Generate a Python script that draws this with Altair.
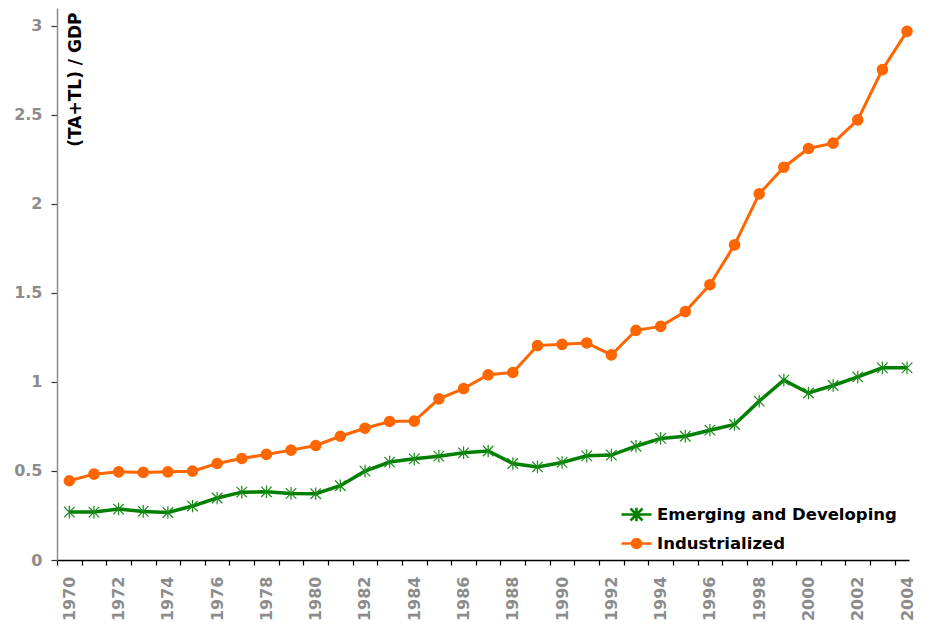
import altair as alt
import pandas as pd

years = list(range(1970, 2005))
industrialized = [0.445, 0.482, 0.495, 0.492, 0.495, 0.499, 0.542, 0.570, 0.593, 0.617,
                  0.643, 0.695, 0.740, 0.778, 0.780, 0.905, 0.963, 1.040,
                  1.053, 1.204, 1.211, 1.219, 1.152, 1.290, 1.312, 1.395, 1.546, 1.770,
                  2.056, 2.206, 2.311, 2.341, 2.472, 2.754, 2.969]
emerging = [0.269, 0.269, 0.286, 0.273, 0.267, 0.303, 0.348, 0.381, 0.383, 0.374,
            0.372, 0.417, 0.499, 0.550, 0.568, 0.583, 0.602, 0.612,
            0.542, 0.523, 0.548, 0.585, 0.589, 0.639, 0.683, 0.695, 0.729, 0.761,
            0.892, 1.010, 0.938, 0.980, 1.028, 1.079, 1.079]
series = ["Emerging and Developing", "Industrialized"]
colors = ["#008000", "#FF6600"]
y_ticks = [0, 0.5, 1, 1.5, 2, 2.5, 3]

df = pd.DataFrame({
    "year": years + years,
    "value": emerging + industrialized,
    "series": [series[0]] * len(years) + [series[1]] * len(years),
})

FONT = "DejaVu Sans"
GREY = "#8c8c8c"

x_enc = alt.X(
    "year:Q",
    scale=alt.Scale(domain=[1969.5, 2004.08], nice=False, zero=False),
    axis=alt.Axis(
        values=[y - 0.5 for y in years],
        labelExpr="(datum.value + 0.5) % 2 == 0 ? toString(datum.value + 0.5) : ''",
        labelAngle=270, labelAlign="right", labelBaseline="middle",
        labelOffset=12.3, labelPadding=11, labelOverlap=False, labelFlush=False,
        labelFont=FONT, labelFontSize=16, labelFontWeight="bold", labelColor=GREY,
        tickSize=5, tickColor="#000000", tickWidth=1.2,
        domainColor="#000000", domainWidth=1.5, grid=False, title=None,
    ),
)
y_enc = alt.Y(
    "value:Q",
    scale=alt.Scale(domain=[0, 3.1], nice=False, zero=True),
    axis=alt.Axis(
        values=y_ticks, labelExpr="toString(datum.value)",
        labelFont=FONT, labelFontSize=16, labelFontWeight="bold", labelColor=GREY,
        labelPadding=9, tickSize=6, tickColor="#333333", tickWidth=1.2,
        domainColor=GREY, domainWidth=1.5, grid=False,
        title="(TA+TL) / GDP", titleFont=FONT, titleFontSize=17, titleFontWeight="bold",
        titleColor="#000000", titleAngle=270, titleAlign="right", titleBaseline="middle",
        titleX=18, titleY=4,
    ),
)

base = alt.Chart(df)

line_em = base.transform_filter(alt.datum.series == series[0]).mark_line(
    color=colors[0], strokeWidth=3.5).encode(x=x_enc, y=y_enc)
line_in = base.transform_filter(alt.datum.series == series[1]).mark_line(
    color=colors[1], strokeWidth=3).encode(x=x_enc, y=y_enc)

star_path = "M-1,-1L1,1M-1,1L1,-1M0,-1.2V1.2"
pts_em = base.transform_filter(alt.datum.series == series[0]).mark_point(
    shape=star_path, size=110, filled=False, strokeWidth=1.2, color="#1a8a1a", opacity=1
).encode(x=x_enc, y=y_enc)
pts_in = base.transform_filter(alt.datum.series == series[1]).mark_circle(
    size=135, color=colors[1], opacity=1).encode(x=x_enc, y=y_enc)

legend_paths = [
    "M-1,0H1M-0.4,-0.4L0.4,0.4M-0.4,0.4L0.4,-0.4M0,-0.45V0.45",
    "M-1,0H1M0.3,0A0.3,0.3 0 1,1 -0.3,0A0.3,0.3 0 1,1 0.3,0Z",
]


def leg():
    return alt.Legend(
        title=None, orient="none", legendX=563, legendY=490, padding=0,
        symbolSize=900, symbolStrokeWidth=2.5, symbolOpacity=1,
        labelOffset=4, labelFont=FONT, labelFontSize=16.5, labelFontWeight="bold",
        labelColor="#000000", labelLimit=400, rowPadding=0,
    )


legend_layer = base.transform_filter("datum.value < 0").mark_point(
    filled=True, opacity=1, strokeWidth=2.5
).encode(
    x=x_enc, y=y_enc,
    fill=alt.Fill("series:N", scale=alt.Scale(domain=series, range=colors), legend=leg()),
    stroke=alt.Stroke("series:N", scale=alt.Scale(domain=series, range=colors), legend=leg()),
    shape=alt.Shape("series:N", scale=alt.Scale(domain=series, range=legend_paths), legend=leg()),
)

chart = alt.layer(line_em, line_in, pts_em, pts_in, legend_layer).properties(
    width=852, height=552,
    autosize=alt.AutoSizeParams(type="none"),
    padding={"left": 49, "top": 0, "right": 8, "bottom": 62},
    background="#ffffff",
).configure_view(stroke=None)

chart.save("out.html", embed_options={"renderer": "svg", "actions": False})
